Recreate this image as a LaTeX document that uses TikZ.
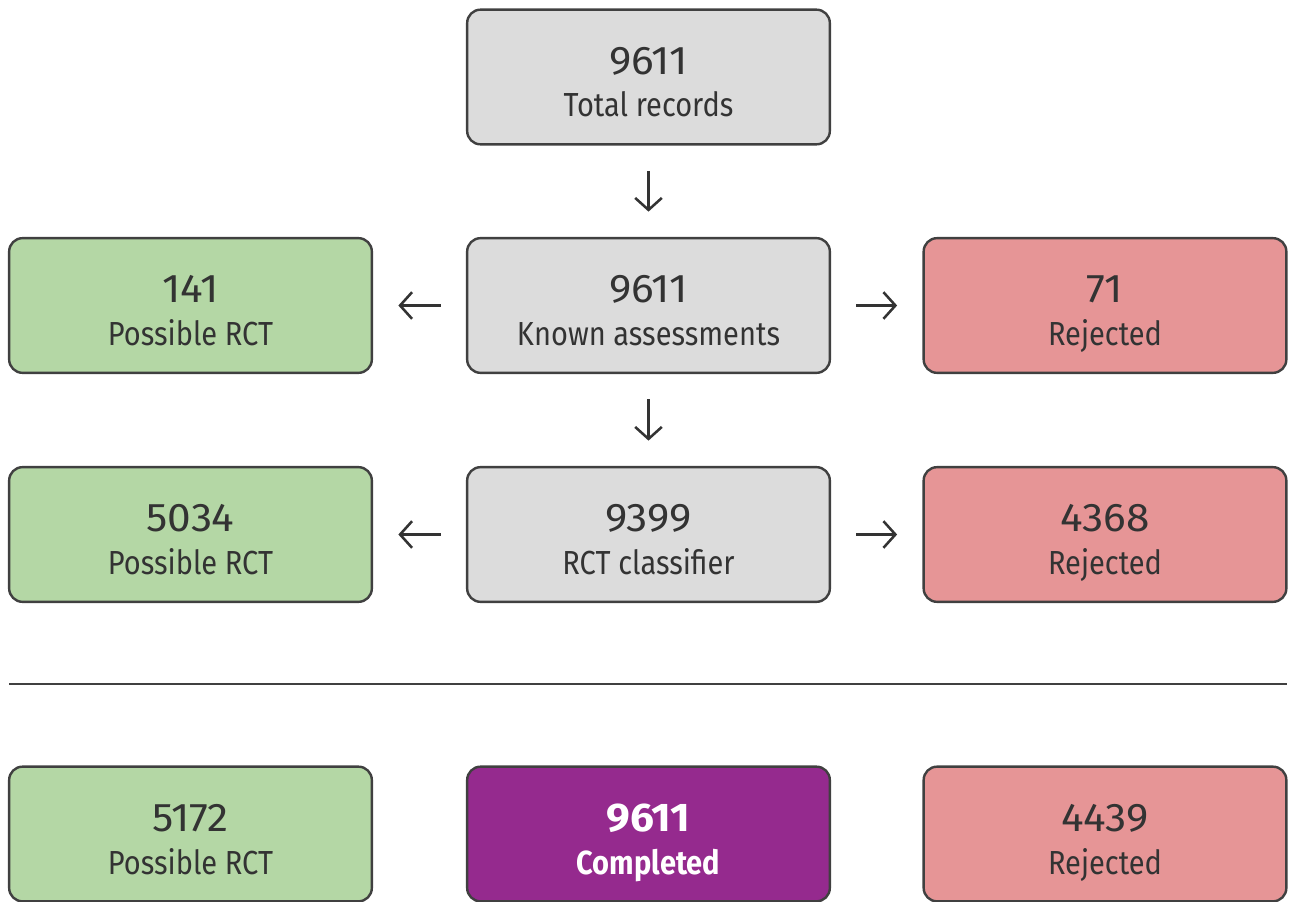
\documentclass[tikz,border=0pt]{standalone}
\usepackage{fontspec}
\setmainfont{Fira Sans}[FakeStretch=0.87]
\newfontfamily\numfont{Fira Sans}[FakeStretch=1.06]
\usetikzlibrary{arrows.meta}
\definecolor{boxgray}{HTML}{DCDCDC}
\definecolor{boxgreen}{HTML}{B4D7A5}
\definecolor{boxred}{HTML}{E69596}
\definecolor{boxpurple}{HTML}{952A8E}
\definecolor{edge}{HTML}{404040}
\definecolor{ink}{HTML}{333333}
\tikzset{
  box/.style={draw=edge, line width=1.8pt, rounded corners=10pt, fill=#1,
    minimum width=272pt, minimum height=101pt, inner sep=0pt},
  numtxt/.style={anchor=base, text=ink, font=\numfont\fontsize{30}{32}\selectfont, inner sep=0pt},
  labtxt/.style={anchor=base, text=ink, font=\fontsize{25}{27}\selectfont, inner sep=0pt},
  flow/.style={draw=ink, line width=1.9pt, -{Straight Barb[length=9pt,width=20pt,line width=1.9pt]}, shorten >=19pt, shorten <=19pt},
}
\newcommand{\boxtext}[4]{%
  \node[numtxt,#4] (#1n) at ([yshift=2pt]#1.center) {#2};
  \node[labtxt,#4] (#1l) at ([yshift=-30pt]#1.center) {#3};}
\begin{document}
\begin{tikzpicture}[x=0.75pt,y=-0.75pt]
\useasboundingbox (0,0) rectangle (1289,902);
% boxes
\node[box=boxgray] (tot) at (648.5,77) {};
\node[box=boxgray] (known) at (648.5,305.5) {};
\node[box=boxgreen] (pos1) at (190.5,305.5) {};
\node[box=boxred] (rej1) at (1105,305.5) {};
\node[box=boxgray] (cls) at (648.5,534.5) {};
\node[box=boxgreen] (pos2) at (190.5,534.5) {};
\node[box=boxred] (rej2) at (1105,534.5) {};
\node[box=boxgreen] (pos3) at (190.5,834) {};
\node[box=boxpurple] (done) at (648.5,834) {};
\node[box=boxred] (rej3) at (1105,834) {};
% texts
\boxtext{tot}{9611}{Total records}{}
\boxtext{known}{9611}{Known assessments}{}
\boxtext{pos1}{141}{Possible RCT}{}
\boxtext{rej1}{71}{Rejected}{}
\boxtext{cls}{9399}{RCT classifier}{}
\boxtext{pos2}{5034}{Possible RCT}{}
\boxtext{rej2}{4368}{Rejected}{}
\boxtext{pos3}{5172}{Possible RCT}{}
\boxtext{done}{\bfseries 9611}{\bfseries Completed}{text=white}
\boxtext{rej3}{4439}{Rejected}{}
% arrows
\draw[flow] (tot) -- (known);
\draw[flow] (known) -- (cls);
\draw[flow] (known) -- (pos1);
\draw[flow] (known) -- (rej1);
\draw[flow] (cls) -- (pos2);
\draw[flow] (cls) -- (rej2);
% separator
\coordinate (sepL) at (9,684);
\coordinate (sepR) at (1287,684);
\draw[edge, line width=2.2pt] (sepL) -- (sepR);
\end{tikzpicture}
\end{document}
